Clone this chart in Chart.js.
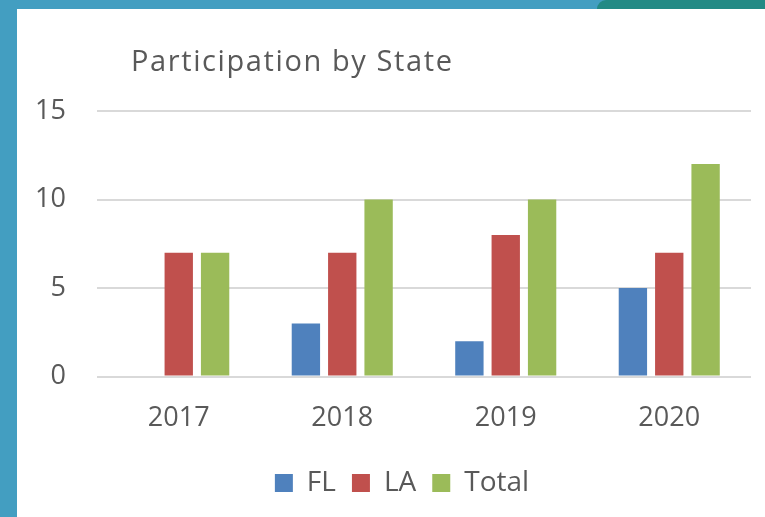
<!DOCTYPE html>
<html>
<head>
<meta charset="utf-8">
<script src="https://cdn.jsdelivr.net/npm/chart.js@4"></script>
<style>
  html, body { margin: 0; padding: 0; width: 765px; height: 517px; overflow: hidden; background: #439EC1; }
  #teal { position: absolute; left: 597px; top: 0; width: 200px; height: 9px; background: #228A85; border-top-left-radius: 9px; }
  #panel { position: absolute; left: 17px; top: 9px; width: 748px; height: 508px; background: #ffffff; }
</style>
</head>
<body>
<div id="teal"></div>
<div id="panel"><canvas id="StateChart" width="748" height="508"></canvas></div>
<script>
// chart data
const years = ['2017', '2018', '2019', '2020'];
const flValues = [0, 3, 2, 5];
const laValues = [7, 7, 8, 7];
const totalValues = [7, 10, 10, 12];
const yTicks = [0, 5, 10, 15];

const textColor = '#595959';
const fontFamily = '"Open Sans", "Noto Sans", sans-serif';

// draws the title indented from the plot area, like the original
const titlePlugin = {
    id: 'indentedTitle',
    afterDraw(chart) {
        const ctx = chart.ctx;
        ctx.save();
        ctx.font = '29px ' + fontFamily;
        ctx.letterSpacing = '1.6px';
        ctx.fillStyle = textColor;
        ctx.textBaseline = 'alphabetic';
        ctx.fillText('Participation by State', chart.chartArea.left + 34, 62);
        ctx.restore();
    }
};

// nudge the legend a bit right so it sits under the plot like the original
const legendShift = {
    id: 'legendShift',
    afterLayout(chart) {
        if (chart.legend) {
            chart.legend.left += 10;
            chart.legend.right += 10;
        }
    }
};

const ctx = document.getElementById('StateChart').getContext('2d');
new Chart(ctx, {
    type: 'bar',
    data: {
        labels: years,
        datasets: [
            { label: 'FL', data: flValues, backgroundColor: '#4F81BD' },
            { label: 'LA', data: laValues, backgroundColor: '#C0504D' },
            { label: 'Total', data: totalValues, backgroundColor: '#9BBB59' }
        ]
    },
    options: {
        responsive: false,
        animation: false,
        barPercentage: 0.78,
        categoryPercentage: 0.667,
        layout: {
            padding: { top: 102, left: 16, right: 14, bottom: 10 }
        },
        plugins: {
            title: { display: false },
            tooltip: { enabled: false },
            legend: {
                position: 'bottom',
                labels: {
                    boxWidth: 18,
                    boxHeight: 18,
                    padding: 16,
                    color: textColor,
                    font: { size: 28, family: fontFamily }
                }
            }
        },
        scales: {
            x: {
                grid: { display: false },
                border: { display: false },
                ticks: {
                    color: textColor,
                    padding: 18,
                    font: { size: 27, family: fontFamily }
                }
            },
            y: {
                min: 0,
                max: 15,
                afterBuildTicks(scale) {
                    scale.ticks = yTicks.map(v => ({ value: v }));
                },
                afterFit(scale) {
                    scale.width = 64;
                },
                grid: { color: '#D9D9D9', lineWidth: 2, drawTicks: false },
                border: { display: false },
                ticks: {
                    color: textColor,
                    padding: 31,
                    font: { size: 27, family: fontFamily }
                }
            }
        }
    },
    plugins: [titlePlugin, legendShift]
});
</script>
</body>
</html>
